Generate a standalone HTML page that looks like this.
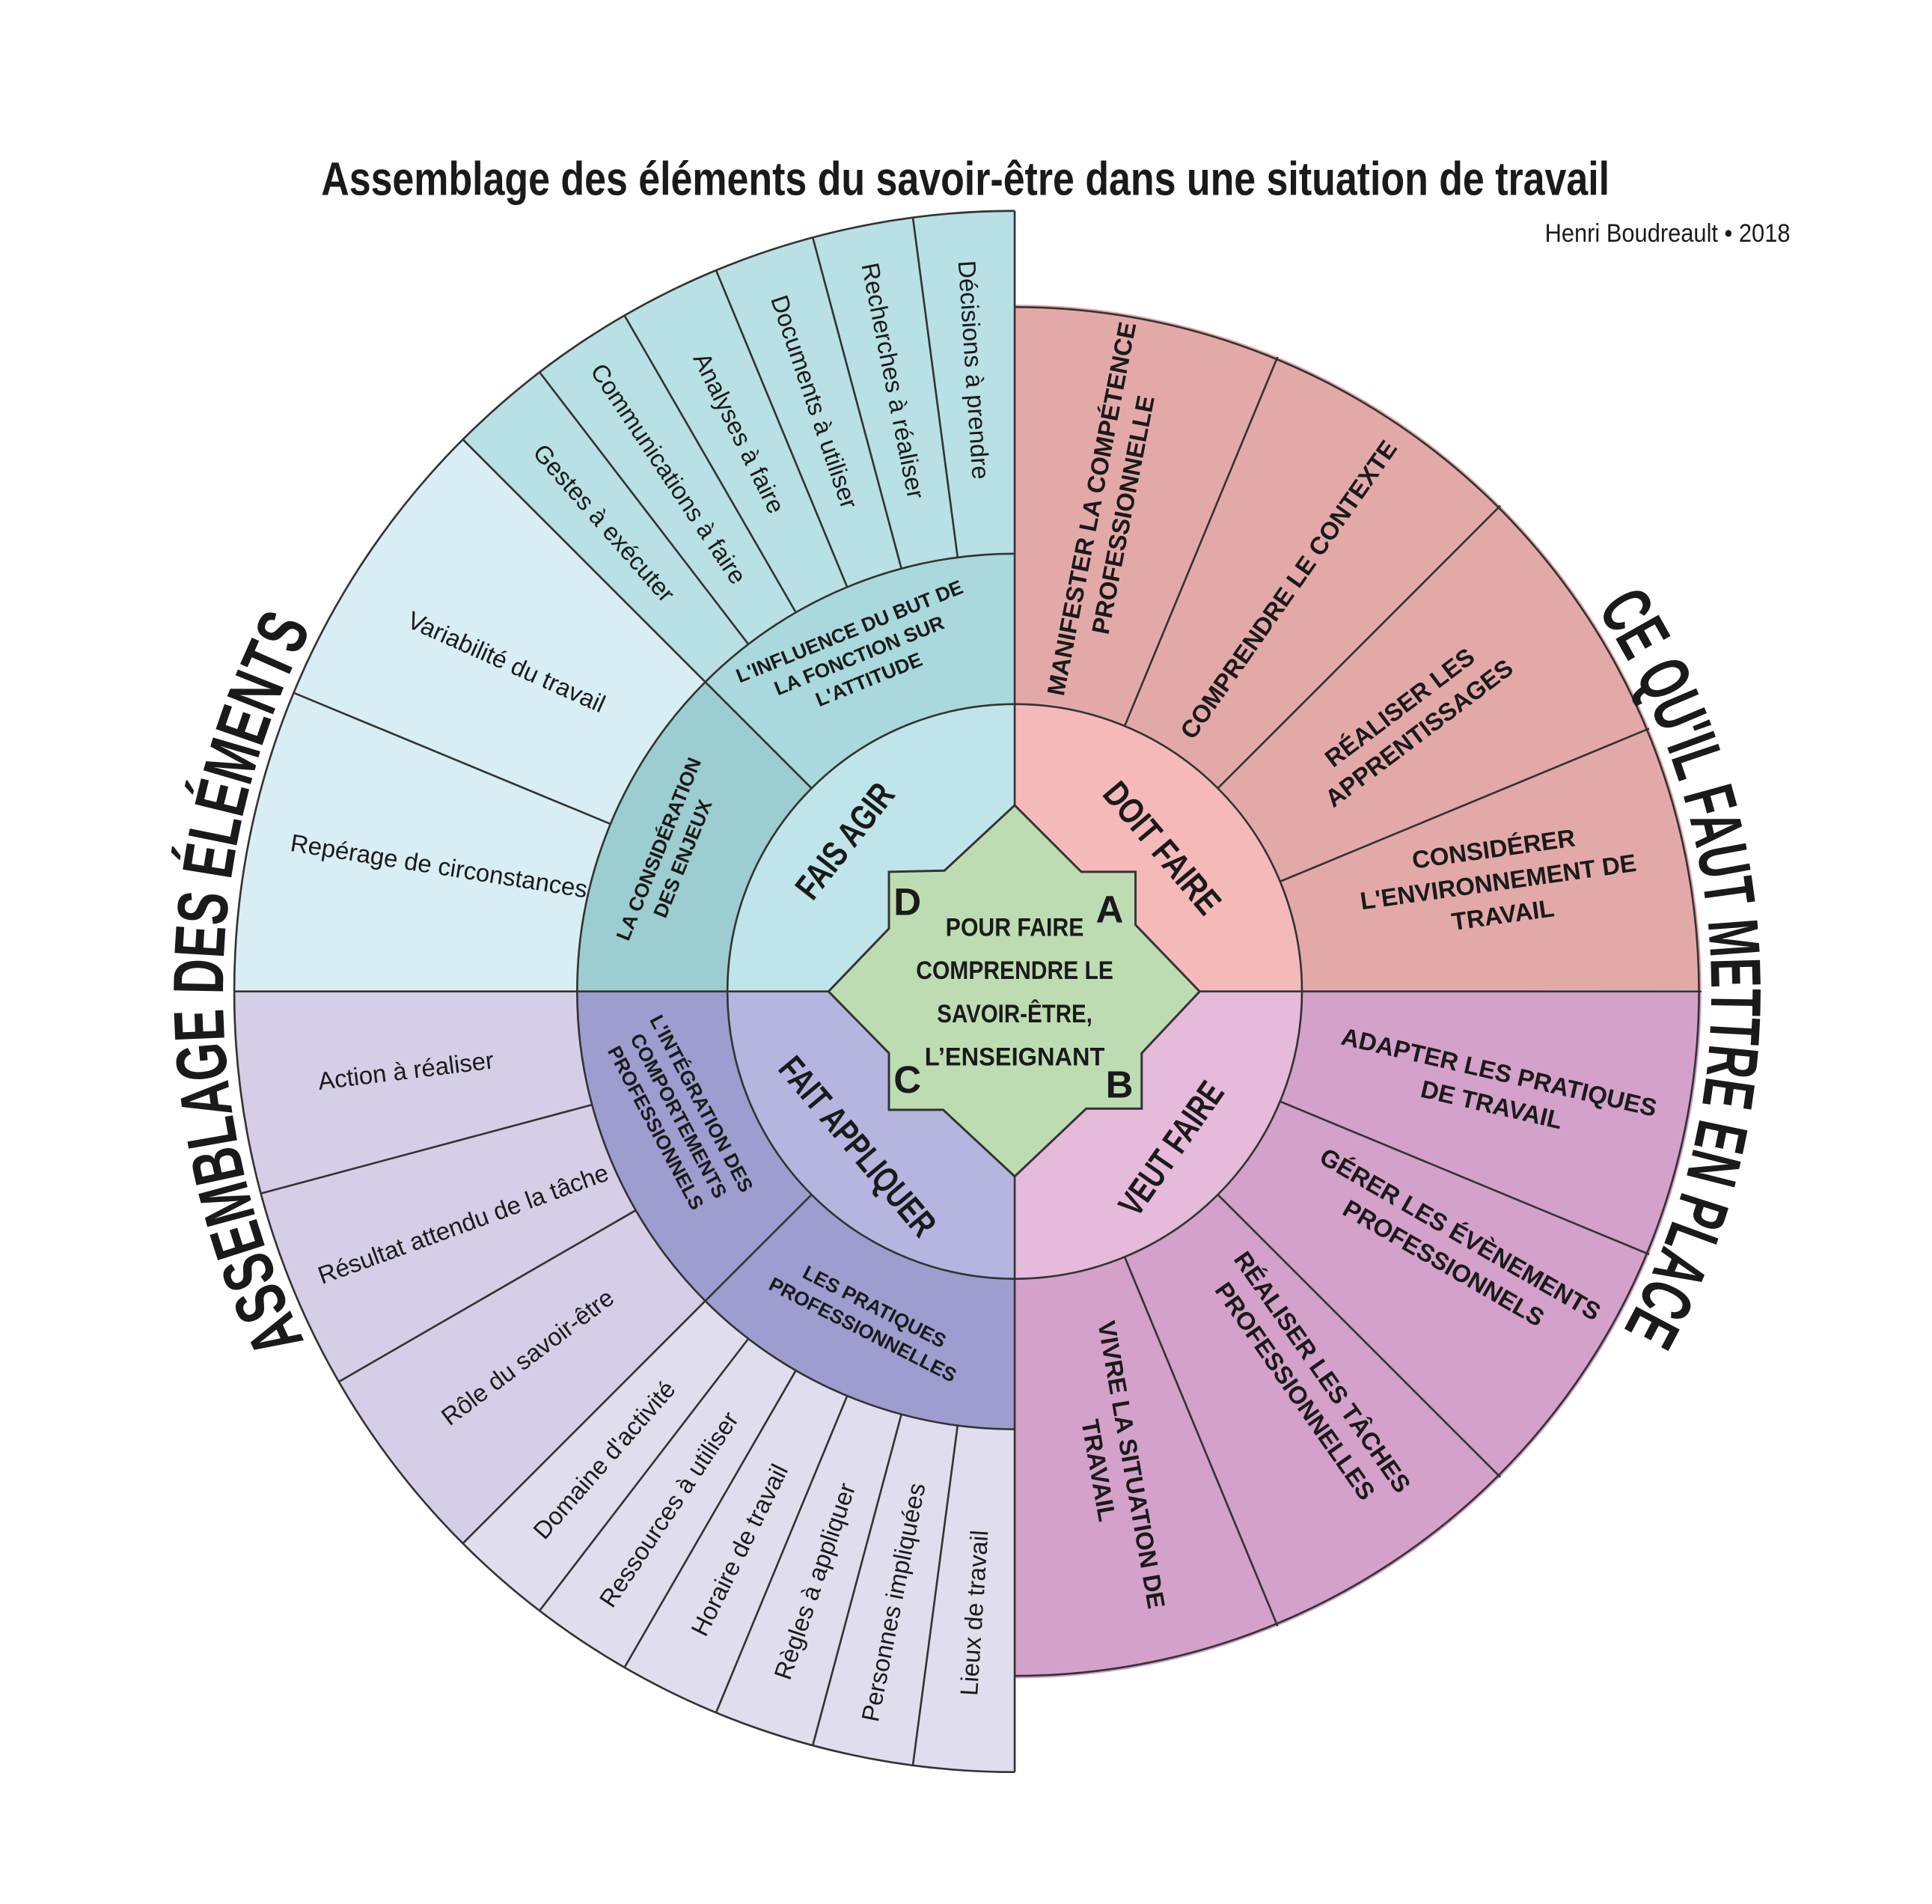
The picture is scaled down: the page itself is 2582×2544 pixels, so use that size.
<!DOCTYPE html>
<html><head><meta charset="utf-8"><style>
html,body{margin:0;padding:0;background:#fff}
svg{display:block}
text{font-family:"Liberation Sans Narrow","Liberation Sans",sans-serif;fill:#1a1a1a}
.b{font-weight:bold}
</style></head><body>
<svg width="2582" height="2544" viewBox="0 0 1567 1544" preserveAspectRatio="none" xmlns="http://www.w3.org/2000/svg">
<rect width="1567" height="1544" fill="#fff"/>
<g fill="none">
<circle cx="823" cy="804" r="494" stroke="#b8e0e5" stroke-width="278" pathLength="360" stroke-dasharray="45 1000" stroke-dashoffset="-225"/>
<circle cx="823" cy="804" r="494" stroke="#d9eef4" stroke-width="278" pathLength="360" stroke-dasharray="45 1000" stroke-dashoffset="-180"/>
<circle cx="823" cy="804" r="494" stroke="#d6cde6" stroke-width="278" pathLength="360" stroke-dasharray="45 1000" stroke-dashoffset="-135"/>
<circle cx="823" cy="804" r="494" stroke="#e0ddef" stroke-width="278" pathLength="360" stroke-dasharray="45 1000" stroke-dashoffset="-90"/>
<circle cx="823" cy="804" r="395" stroke="#e3a9a9" stroke-width="324" pathLength="360" stroke-dasharray="90 1000" stroke-dashoffset="-270"/>
<circle cx="823" cy="804" r="395" stroke="#d3a1c9" stroke-width="324" pathLength="360" stroke-dasharray="90 1000" stroke-dashoffset="0"/>
<circle cx="823" cy="804" r="294" stroke="#a9d9dd" stroke-width="122" pathLength="360" stroke-dasharray="45 1000" stroke-dashoffset="-225"/>
<circle cx="823" cy="804" r="294" stroke="#9ccdd0" stroke-width="122" pathLength="360" stroke-dasharray="45 1000" stroke-dashoffset="-180"/>
<circle cx="823" cy="804" r="294" stroke="#9d9dcf" stroke-width="122" pathLength="360" stroke-dasharray="90 1000" stroke-dashoffset="-90"/>
</g>
<path d="M823 804 L823 571 A233 233 0 0 1 1056 804 Z" fill="#f6b9b9"/>
<path d="M823 804 L590 804 A233 233 0 0 1 823 571 Z" fill="#bfe4ea"/>
<path d="M823 804 L823 1037 A233 233 0 0 1 590 804 Z" fill="#b5b5e0"/>
<path d="M823 804 L1056 804 A233 233 0 0 1 823 1037 Z" fill="#e5badb"/>
<g stroke="#333" stroke-width="1.6" fill="none">
<path d="M823 171 A633 633 0 0 0 823 1437"/>
<path d="M823 249 A555 555 0 0 1 823 1359"/>
<path d="M823 449 A355 355 0 0 0 823 1159"/>
<circle cx="823" cy="804" r="233"/>
<line x1="823" y1="171" x2="823" y2="1437"/>
<line x1="190" y1="804" x2="1380" y2="804"/>
<line x1="776.7" y1="452" x2="740.4" y2="176.4"/>
<line x1="731.1" y1="461.1" x2="659.2" y2="192.6"/>
<line x1="687.1" y1="476" x2="580.8" y2="219.2"/>
<line x1="645.5" y1="496.6" x2="506.5" y2="255.8"/>
<line x1="606.9" y1="522.3" x2="437.6" y2="301.8"/>
<line x1="658.2" y1="639.2" x2="375.4" y2="356.4"/>
<line x1="495" y1="668.1" x2="238.2" y2="561.8"/>
<line x1="480.1" y1="895.9" x2="211.6" y2="967.8"/>
<line x1="515.6" y1="981.5" x2="274.8" y2="1120.5"/>
<line x1="658.2" y1="968.8" x2="375.4" y2="1251.6"/>
<line x1="606.9" y1="1085.7" x2="437.6" y2="1306.2"/>
<line x1="645.5" y1="1111.4" x2="506.5" y2="1352.2"/>
<line x1="687.1" y1="1132" x2="580.8" y2="1388.8"/>
<line x1="731.1" y1="1146.9" x2="659.2" y2="1415.4"/>
<line x1="776.7" y1="1156" x2="740.4" y2="1431.6"/>
<line x1="1038.3" y1="714.8" x2="1337.6" y2="590.8"/>
<line x1="987.8" y1="639.2" x2="1216.9" y2="410.1"/>
<line x1="912.2" y1="588.7" x2="1036.2" y2="289.4"/>
<line x1="1038.3" y1="893.2" x2="1337.6" y2="1017.2"/>
<line x1="987.8" y1="968.8" x2="1216.9" y2="1197.9"/>
<line x1="912.2" y1="1019.3" x2="1036.2" y2="1318.6"/>
</g>
<polygon points="823,653 766,706 721,707 721,753 672,804 721,854 721,900 765,900 823,954 881,899 926,899 926,854 973,804 921,750 921,707 877,707" fill="#bddcb2" stroke="#333" stroke-width="1.8"/>

<text x="783" y="158" class="b" font-size="38" text-anchor="middle" textLength="1045" lengthAdjust="spacingAndGlyphs">Assemblage des éléments du savoir-être dans une situation de travail</text>
<text x="1452" y="196" font-size="21" text-anchor="end" textLength="199" lengthAdjust="spacingAndGlyphs">Henri Boudreault • 2018</text>

<path id="pl" d="M256.1 1105.4 A642 642 0 0 1 256.1 502.6" fill="none"/>
<path id="pr" d="M1285.8 479.9 A565 565 0 0 1 1285.8 1128.1" fill="none"/>
<text class="b" font-size="58"><textPath href="#pl" startOffset="51%" text-anchor="middle" textLength="600" lengthAdjust="spacingAndGlyphs">ASSEMBLAGE DES ÉLÉMENTS</textPath></text>
<text class="b" font-size="58"><textPath href="#pr" startOffset="47%" text-anchor="middle" textLength="615" lengthAdjust="spacingAndGlyphs">CE QU'IL FAUT METTRE EN PLACE</textPath></text>

<g font-size="21" text-anchor="middle">
<text x="823" y="759" class="b" textLength="112" lengthAdjust="spacingAndGlyphs">POUR FAIRE</text>
<text x="823" y="794" class="b" textLength="160" lengthAdjust="spacingAndGlyphs">COMPRENDRE LE</text>
<text x="823" y="829" class="b" textLength="126" lengthAdjust="spacingAndGlyphs">SAVOIR-ÊTRE,</text>
<text x="823" y="864" class="b" textLength="146" lengthAdjust="spacingAndGlyphs">L’ENSEIGNANT</text>
</g>
<g font-size="31" text-anchor="middle">
<text x="736" y="742" class="b">D</text>
<text x="900" y="748" class="b">A</text>
<text x="736" y="886" class="b">C</text>
<text x="908" y="890" class="b">B</text>
</g>

<g font-size="29" text-anchor="middle">
<text class="b" transform="translate(693,688) rotate(-52)" textLength="110" lengthAdjust="spacingAndGlyphs">FAIS AGIR</text>
<text class="b" transform="translate(935,694) rotate(50)" textLength="130" lengthAdjust="spacingAndGlyphs">DOIT FAIRE</text>
<text class="b" transform="translate(688,936) rotate(50)" textLength="180" lengthAdjust="spacingAndGlyphs">FAIT APPLIQUER</text>
<text class="b" transform="translate(958,937) rotate(-55)" textLength="125" lengthAdjust="spacingAndGlyphs">VEUT FAIRE</text>
</g>

<g font-size="16" text-anchor="middle">
<text class="b" transform="translate(697,532) rotate(-22)"><tspan x="0" dy="-16">L'INFLUENCE DU BUT DE</tspan><tspan x="0" dy="21">LA FONCTION SUR</tspan><tspan x="0" dy="21">L'ATTITUDE</tspan></text>
<text class="b" transform="translate(543,692) rotate(-68)"><tspan x="0" dy="-4">LA CONSIDÉRATION</tspan><tspan x="0" dy="21">DES ENJEUX</tspan></text>
<text class="b" transform="translate(550,905) rotate(62)"><tspan x="0" dy="-16">L'INTÉGRATION DES</tspan><tspan x="0" dy="21">COMPORTEMENTS</tspan><tspan x="0" dy="21">PROFESSIONNELS</tspan></text>
<text class="b" transform="translate(705,1068) rotate(27)"><tspan x="0" dy="-4">LES PRATIQUES</tspan><tspan x="0" dy="21">PROFESSIONNELLES</tspan></text>
</g>

<g font-size="20" text-anchor="middle">
<text transform="translate(408,543) rotate(24)">Variabilité du travail</text>
<text transform="translate(355,709) rotate(9)">Repérage de circonstances</text>
<text transform="translate(330,875) rotate(-7)">Action à réaliser</text>
<text transform="translate(378,999) rotate(-20)">Résultat attendu de la tâche</text>
<text transform="translate(432,1106) rotate(-37)">Rôle du savoir-être</text>
<text transform="translate(490,424) rotate(48.75)" dy="7">Gestes à exécuter</text>
<text transform="translate(542.4,384.1) rotate(56.25)" dy="7">Communications à faire</text>
<text transform="translate(599.6,351.1) rotate(63.75)" dy="7">Analyses à faire</text>
<text transform="translate(660.7,325.8) rotate(71.25)" dy="7">Documents à utiliser</text>
<text transform="translate(724.5,308.7) rotate(78.75)" dy="7">Recherches à réaliser</text>
<text transform="translate(790,300) rotate(86.25)" dy="7">Décisions à prendre</text>
<text transform="translate(490,1183.7) rotate(-48.75)" dy="7">Domaine d'activité</text>
<text transform="translate(542.4,1223.9) rotate(-56.25)" dy="7">Ressources à utiliser</text>
<text transform="translate(599.6,1256.9) rotate(-63.75)" dy="7">Horaire de travail</text>
<text transform="translate(660.7,1282.2) rotate(-71.25)" dy="7">Règles à appliquer</text>
<text transform="translate(724.5,1299.3) rotate(-78.75)" dy="7">Personnes impliquées</text>
<text transform="translate(790,1308) rotate(-86.25)" dy="7">Lieux de travail</text>
</g>

<g font-size="20" text-anchor="middle">
<text class="b" transform="translate(898,415) rotate(-79)"><tspan x="0" dy="-6">MANIFESTER LA COMPÉTENCE</tspan><tspan x="0" dy="26">PROFESSIONNELLE</tspan></text>
<text class="b" transform="translate(1045,478) rotate(-55)" dy="7">COMPRENDRE LE CONTEXTE</text>
<text class="b" transform="translate(1143,584) rotate(-37)"><tspan x="0" dy="-6">RÉALISER LES</tspan><tspan x="0" dy="26">APPRENTISSAGES</tspan></text>
<text class="b" transform="translate(1215,714) rotate(-8)"><tspan x="0" dy="-19">CONSIDÉRER</tspan><tspan x="0" dy="27">L'ENVIRONNEMENT DE</tspan><tspan x="0" dy="27">TRAVAIL</tspan></text>
<text class="b" transform="translate(1213,882) rotate(13)"><tspan x="0" dy="-6">ADAPTER LES PRATIQUES</tspan><tspan x="0" dy="27">DE TRAVAIL</tspan></text>
<text class="b" transform="translate(1178,1012) rotate(30)"><tspan x="0" dy="-6">GÉRER LES ÉVÈNEMENTS</tspan><tspan x="0" dy="27">PROFESSIONNELS</tspan></text>
<text class="b" transform="translate(1062,1120) rotate(55)"><tspan x="0" dy="-6">RÉALISER  LES TÂCHES</tspan><tspan x="0" dy="27">PROFESSIONNELLES</tspan></text>
<text class="b" transform="translate(905,1190) rotate(80)"><tspan x="0" dy="-6">VIVRE LA SITUATION DE</tspan><tspan x="0" dy="27">TRAVAIL</tspan></text>
</g>
</svg>
</body></html>
